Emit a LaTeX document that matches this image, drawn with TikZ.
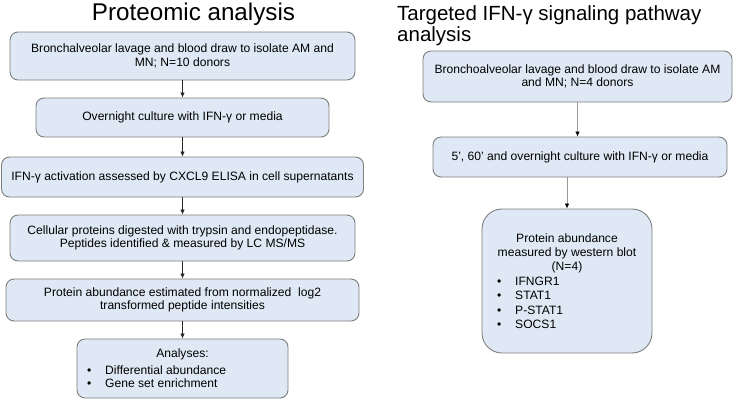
\documentclass[tikz,border=0pt]{standalone}
\usepackage{fontspec}
\setmainfont{Liberation Sans}
\usetikzlibrary{arrows.meta}
\definecolor{boxfill}{RGB}{222,233,245}
\definecolor{boxline}{RGB}{125,125,125}
\tikzset{
  stepbox/.style={draw=boxline, fill=boxfill, line width=0.9pt, rounded corners=8pt,
    align=center, inner sep=0pt, font=\fontsize{12.1}{13.5}\selectfont},
  arr/.style={-{Latex[length=5pt,width=4.5pt]}, line width=0.8pt, draw=black!85},
  grayarr/.style={-{Latex[length=5pt,width=4.5pt,color=black]}, line width=0.8pt, draw=black!40},
}
\newcommand{\bitem}[2]{\makebox[#1][l]{\textbullet\hspace{14pt}#2}}
\begin{document}
\begin{tikzpicture}[x=1pt,y=-1pt]
  \useasboundingbox (0,0) rectangle (733,400);
  \node[anchor=base, inner sep=0pt, font=\fontsize{24.2}{28}\selectfont](t1) at (193.5,20){Proteomic analysis};
  \node[anchor=north west, inner sep=0pt, align=left, font=\fontsize{20.5}{21.5}\selectfont](t2) at (397,5){Targeted IFN-γ signaling pathway\\analysis};
  \node[stepbox, minimum width=345pt, minimum height=48pt](b1) at (182.5,56){Bronchalveolar lavage and blood draw to isolate AM and\\MN; N=10 donors};
  \node[stepbox, minimum width=293pt, minimum height=39pt](b2) at (182.5,117.5){Overnight culture with IFN-γ or media};
  \node[stepbox, minimum width=362pt, minimum height=40pt](b3) at (182.5,177){IFN-γ activation assessed by CXCL9 ELISA in cell supernatants};
  \node[stepbox, minimum width=345pt, minimum height=46pt](b4) at (182.5,238){Cellular proteins digested with trypsin and endopeptidase.\\Peptides identified \& measured by LC MS/MS};
  \node[stepbox, minimum width=353pt, minimum height=42pt](b5) at (182.5,300){Protein abundance estimated from normalized\ \ log2\\transformed peptide intensities};
  \node[stepbox, minimum width=211pt, minimum height=59pt](b6) at (182.5,368.5){Analyses:\\[3pt]\bitem{191pt}{Differential abundance}\\\bitem{191pt}{Gene set enrichment}};
  \node[stepbox, minimum width=309pt, minimum height=51pt](r1) at (577.5,76.5){Bronchoalveolar lavage and blood draw to isolate AM\\and MN; N=4 donors};
  \node[stepbox, minimum width=294pt, minimum height=40pt](r2) at (580,157){5’, 60’ and overnight culture with IFN-γ or media};
  \node[stepbox, rounded corners=20pt, minimum width=170pt, minimum height=144pt, font=\fontsize{12.1}{14.4}\selectfont](r3) at (567,281){Protein abundance\\measured by western blot\\(N=4)\\\bitem{140pt}{IFNGR1}\\\bitem{140pt}{STAT1}\\\bitem{140pt}{P-STAT1}\\\bitem{140pt}{SOCS1}};
  \draw[arr](b1)--(b2);
  \draw[arr](b2)--(b3);
  \draw[arr](b3)--(b4);
  \draw[arr](b4)--(b5);
  \draw[arr](b5)--(b6);
  \draw[grayarr](r1)--(r1 |- r2.north);
  \draw[grayarr](r3 |- r2.south)--(r3);
\end{tikzpicture}
\end{document}
